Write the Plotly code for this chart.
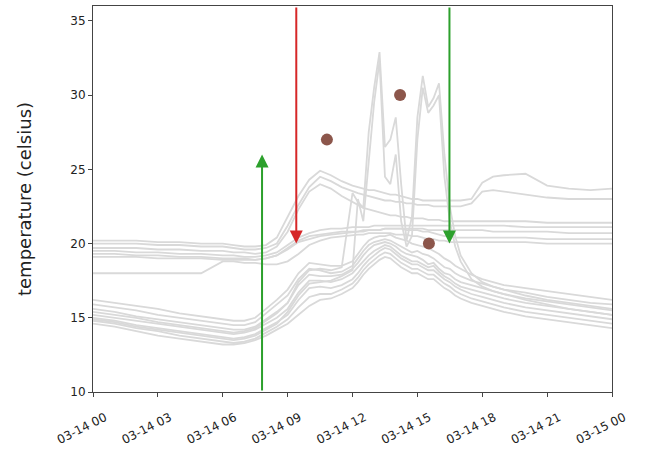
import pandas as pd
import plotly.graph_objects as go

# time grid (hours after 2019-03-14 00:00)
hours = [0, 1, 2, 3, 4, 5, 6, 6.5, 7, 7.5, 8, 8.5, 9, 9.5, 10, 10.5, 11, 11.5,
         12, 12.25, 12.5, 12.75, 13, 13.25, 13.5, 13.75, 14, 14.25, 14.5, 14.75,
         15, 15.25, 15.5, 15.75, 16, 16.25, 16.5, 16.75, 17,
         17.5, 18, 18.5, 19, 20, 21, 22, 23, 24]

u1 = [20.2, 20.2, 20.2, 20.1, 20.1, 20.0, 20.0,
      19.9, 19.8, 19.8, 19.9, 20.4, 21.8, 23.2, 24.3, 24.9, 24.6, 24.2,
      23.9, 23.8, 23.7, 23.6, 23.6, 23.5, 23.4, 23.3, 23.3, 23.2, 23.1, 23.0,
      23.0, 22.9, 22.9, 22.9, 22.9, 22.9, 22.9, 22.9, 22.9,
      23.0, 24.1, 24.5, 24.6, 24.7, 23.9, 23.7, 23.6, 23.7]
u2 = [20.0, 20.0, 20.0, 19.9, 19.9, 19.8, 19.8,
      19.7, 19.6, 19.6, 19.7, 20.0, 21.2, 22.6, 23.8, 24.5, 24.2, 23.8,
      23.5, 23.4, 23.3, 23.2, 23.1, 23.0, 22.9, 22.9, 22.8, 22.8, 22.7, 22.7,
      22.6, 22.6, 22.6, 22.5, 22.5, 22.5, 22.5, 22.5, 22.5,
      22.7, 23.5, 23.6, 23.5, 23.3, 23.1, 23.0, 23.0, 23.0]
u3 = [19.7, 19.7, 19.7, 19.6, 19.6, 19.5, 19.5,
      19.4, 19.4, 19.3, 19.4, 19.8, 20.8, 22.3, 23.5, 24.0, 23.7, 23.2,
      22.8, 22.6, 22.4, 22.3, 22.2, 22.1, 22.0, 21.9, 21.9, 21.8, 21.8, 21.7,
      21.7, 21.7, 21.6, 21.6, 21.6, 21.5, 21.5, 21.5, 21.5,
      21.5, 21.5, 21.5, 21.5, 21.5, 21.4, 21.4, 21.4, 21.4]
u4 = [19.5, 19.5, 19.4, 19.4, 19.3, 19.3, 19.2,
      19.2, 19.1, 19.1, 19.2, 19.4, 19.9, 20.4, 20.7, 20.9, 21.0, 21.0,
      21.1, 21.1, 21.1, 21.1, 21.2, 21.2, 21.2, 21.2, 21.2, 21.2, 21.2, 21.2,
      21.2, 21.2, 21.2, 21.2, 21.2, 21.2, 21.2, 21.2, 21.2,
      21.2, 21.2, 21.2, 21.2, 21.1, 21.1, 21.1, 21.1, 21.1]
u5 = [19.3, 19.3, 19.2, 19.2, 19.1, 19.1, 19.0,
      19.0, 19.0, 18.9, 19.0, 19.2, 19.7, 20.2, 20.5, 20.6, 20.7, 20.8,
      20.8, 20.8, 20.9, 20.9, 20.9, 20.9, 21.0, 21.0, 21.0, 21.0, 21.0, 21.0,
      21.0, 21.0, 20.9, 20.9, 20.9, 20.9, 20.9, 20.9, 20.9,
      20.9, 20.9, 20.8, 20.8, 20.8, 20.8, 20.7, 20.7, 20.7]
u6 = [19.1, 19.1, 19.1, 19.0, 19.0, 19.0, 18.9,
      18.9, 18.9, 18.9, 19.0, 19.2, 19.6, 20.1, 20.3, 20.5, 20.6, 20.7,
      20.8, 20.8, 20.8, 20.9, 20.9, 20.9, 21.0, 21.0, 21.0, 21.0, 20.9, 20.9,
      20.9, 20.8, 20.8, 20.7, 20.6, 20.5, 20.5, 20.4, 20.4,
      20.4, 20.4, 20.4, 20.4, 20.4, 20.3, 20.3, 20.3, 20.3]
u7 = [18.0, 18.0, 18.0, 18.0, 18.0, 18.0, 18.8,
      18.8, 18.7, 18.7, 18.6, 18.6, 18.8, 19.3, 19.9, 20.2, 20.4, 20.5,
      20.6, 20.6, 20.6, 20.7, 20.7, 20.7, 20.7, 20.7, 20.6, 20.6, 20.6, 20.5,
      20.5, 20.4, 20.3, 20.3, 20.2, 20.2, 20.1, 20.1, 20.1,
      20.1, 20.1, 20.1, 20.1, 20.1, 20.0, 20.0, 20.0, 20.0]
l1 = [16.2, 16.0, 15.8, 15.6, 15.3, 15.1, 14.9,
      14.8, 14.8, 15.0, 15.6, 16.2, 16.9, 18.0, 18.7, 18.6, 18.5, 18.5,
      18.8, 19.3, 19.8, 20.2, 20.4, 20.5, 20.5, 20.6, 20.4, 20.3, 20.2, 20.0,
      19.9, 19.8, 19.7, 19.5, 19.3, 19.0, 18.8, 18.5, 18.3,
      17.9, 17.6, 17.4, 17.2, 17.0, 16.8, 16.6, 16.4, 16.2]
l2 = [15.9, 15.7, 15.5, 15.2, 15.0, 14.8, 14.6,
      14.5, 14.5, 14.7, 15.3, 15.9, 16.5, 17.6, 18.3, 18.2, 18.0, 18.1,
      18.5, 19.0, 19.5, 19.9, 20.1, 20.2, 20.3, 20.2, 20.0, 19.8, 19.6, 19.4,
      19.5, 19.3, 19.2, 19.0, 18.7, 18.4, 18.3, 18.0, 17.8,
      17.5, 17.3, 17.1, 16.9, 16.7, 16.4, 16.2, 16.0, 15.9]
l3 = [15.6, 15.4, 15.1, 14.9, 14.7, 14.5, 14.3,
      14.2, 14.2, 14.4, 14.9, 15.4, 16.0, 17.2, 17.9, 17.8, 17.8, 17.9,
      18.3, 18.7, 19.2, 19.6, 19.9, 20.0, 20.1, 20.0, 19.8, 19.5, 19.3, 19.2,
      19.1, 18.9, 18.6, 18.7, 18.3, 18.0, 17.9, 17.6, 17.4,
      17.2, 17.0, 16.8, 16.6, 16.3, 16.1, 15.9, 15.7, 15.5]
l4 = [15.2, 15.0, 14.8, 14.6, 14.4, 14.2, 14.0,
      13.9, 14.0, 14.2, 14.6, 15.0, 15.6, 16.7, 17.5, 17.5, 17.4, 17.6,
      18.0, 18.4, 18.8, 19.2, 19.5, 19.7, 19.9, 19.8, 19.5, 19.2, 19.0, 18.8,
      18.8, 18.6, 18.4, 18.5, 18.1, 17.8, 17.6, 17.3, 17.1,
      16.9, 16.7, 16.5, 16.3, 16.0, 15.8, 15.6, 15.4, 15.2]
l5 = [15.0, 14.8, 14.5, 14.3, 14.1, 13.9, 13.7,
      13.6, 13.7, 13.9, 14.3, 14.7, 15.2, 16.2, 17.0, 17.1, 17.0, 17.2,
      17.6, 18.0, 18.5, 18.9, 19.2, 19.5, 19.7, 19.6, 19.3, 19.0, 18.8, 18.6,
      18.6, 18.4, 18.2, 18.2, 17.9, 17.6, 17.4, 17.1, 16.9,
      16.6, 16.4, 16.2, 16.0, 15.7, 15.5, 15.3, 15.1, 14.9]
l6 = [14.8, 14.6, 14.3, 14.1, 13.8, 13.6, 13.4,
      13.3, 13.4, 13.6, 14.0, 14.4, 14.9, 15.7, 16.4, 16.6, 16.6, 16.9,
      17.3, 17.7, 18.2, 18.6, 18.9, 19.2, 19.4, 19.3, 19.0, 18.7, 18.5, 18.3,
      18.3, 18.1, 17.9, 17.9, 17.6, 17.3, 17.1, 16.8, 16.6,
      16.3, 16.1, 15.9, 15.7, 15.4, 15.2, 15.0, 14.8, 14.6]
l7 = [14.6, 14.4, 14.1, 13.8, 13.6, 13.4, 13.2,
      13.2, 13.3, 13.5, 13.8, 14.2, 14.6, 15.2, 15.8, 16.2, 16.3, 16.6,
      17.0, 17.4, 17.9, 18.3, 18.6, 18.9, 19.1, 19.0, 18.7, 18.4, 18.2, 18.0,
      18.0, 17.8, 17.6, 17.6, 17.3, 17.0, 16.8, 16.5, 16.3,
      16.0, 15.8, 15.6, 15.4, 15.1, 14.9, 14.7, 14.5, 14.3]
s1 = [15.4, 15.2, 15.0, 14.7, 14.5, 14.3, 14.1,
      14.0, 14.1, 14.3, 14.8, 15.3, 16.0, 17.4, 18.2, 18.3, 18.2, 18.4,
      23.4, 22.8, 22.4, 27.5, 30.5, 32.9, 26.5, 27.0, 28.5, 24.0, 20.2, 21.8,
      28.5, 31.3, 29.2, 29.8, 30.8, 26.0, 22.5, 20.5, 19.2,
      18.0, 17.4, 17.1, 16.9, 16.5, 16.2, 16.0, 15.8, 15.6]
s2 = [14.9, 14.7, 14.4, 14.2, 14.0, 13.8, 13.6,
      13.5, 13.6, 13.8, 14.2, 14.6, 15.4, 16.5, 17.3, 17.4, 17.5, 17.8,
      18.2, 23.0, 21.5, 25.5, 29.5, 32.3, 24.5, 24.0, 26.0, 21.5, 19.8, 20.5,
      27.0, 30.5, 28.8, 29.3, 30.0, 24.5, 21.5, 19.8, 18.8,
      17.6, 17.1, 16.8, 16.6, 16.2, 15.9, 15.6, 15.4, 15.2]

sensor_series = [u1, u2, u3, u4, u5, u6, u7, l1, l2, l3, l4, l5, l6, l7, s1, s2]

# highlighted points
point_times = ["2019-03-14 10:49", "2019-03-14 14:12", "2019-03-14 15:32"]
point_values = [27, 30, 20]

# arrows: time, start value, end value, colour
arrow_times = ["2019-03-14 07:49", "2019-03-14 09:24", "2019-03-14 16:29"]
arrow_from = [10, 36, 36]
arrow_to = [26, 20, 20]
arrow_colors = ["#2ca02c", "#d62728", "#2ca02c"]

base = pd.Timestamp("2019-03-14 00:00")
times = [base + pd.Timedelta(hours=h) for h in hours]

fig = go.Figure()
for s in sensor_series:
    fig.add_trace(go.Scatter(x=times, y=s, mode="lines",
                             line=dict(color="#d9d9d9", width=1.8),
                             showlegend=False, hoverinfo="skip"))

fig.add_trace(go.Scatter(x=pd.to_datetime(point_times), y=point_values, mode="markers",
                         marker=dict(color="#8c564b", size=12),
                         showlegend=False))

for t, y0, y1, c in zip(arrow_times, arrow_from, arrow_to, arrow_colors):
    fig.add_annotation(x=t, y=y1, ax=t, ay=y0, xref="x", yref="y",
                       axref="x", ayref="y", showarrow=True, text="",
                       arrowhead=2, arrowsize=1.3, arrowwidth=2, arrowcolor=c)

fig.update_layout(
    width=646, height=450,
    margin=dict(l=93, r=34, t=6, b=58, autoexpand=False),
    paper_bgcolor="white", plot_bgcolor="white",
    font=dict(family="DejaVu Sans", size=12, color="#222"),
)
fig.update_xaxes(
    type="date", automargin=False,
    range=["2019-03-14 00:00", "2019-03-15 00:00"],
    tick0="2019-03-14 00:00", dtick=3 * 3600 * 1000,
    tickformat="%m-%d %H", tickangle=-27,
    ticklabelshift=12, ticklabelstandoff=9,
    showgrid=False, zeroline=False,
    showline=True, mirror=True, linecolor="#444", linewidth=1,
    ticks="outside", ticklen=4, tickcolor="#444",
)
fig.update_yaxes(
    range=[10, 36], tickvals=[10, 15, 20, 25, 30, 35], automargin=False,
    showgrid=False, zeroline=False,
    showline=True, mirror=True, linecolor="#444", linewidth=1,
    ticks="outside", ticklen=4, tickcolor="#444",
    title=dict(text="temperature (celsius)", font=dict(size=18), standoff=34),
)

fig.write_html("out.html", config={"displayModeBar": False},
               post_script="document.body.style.margin='0';document.body.style.overflow='hidden';")
